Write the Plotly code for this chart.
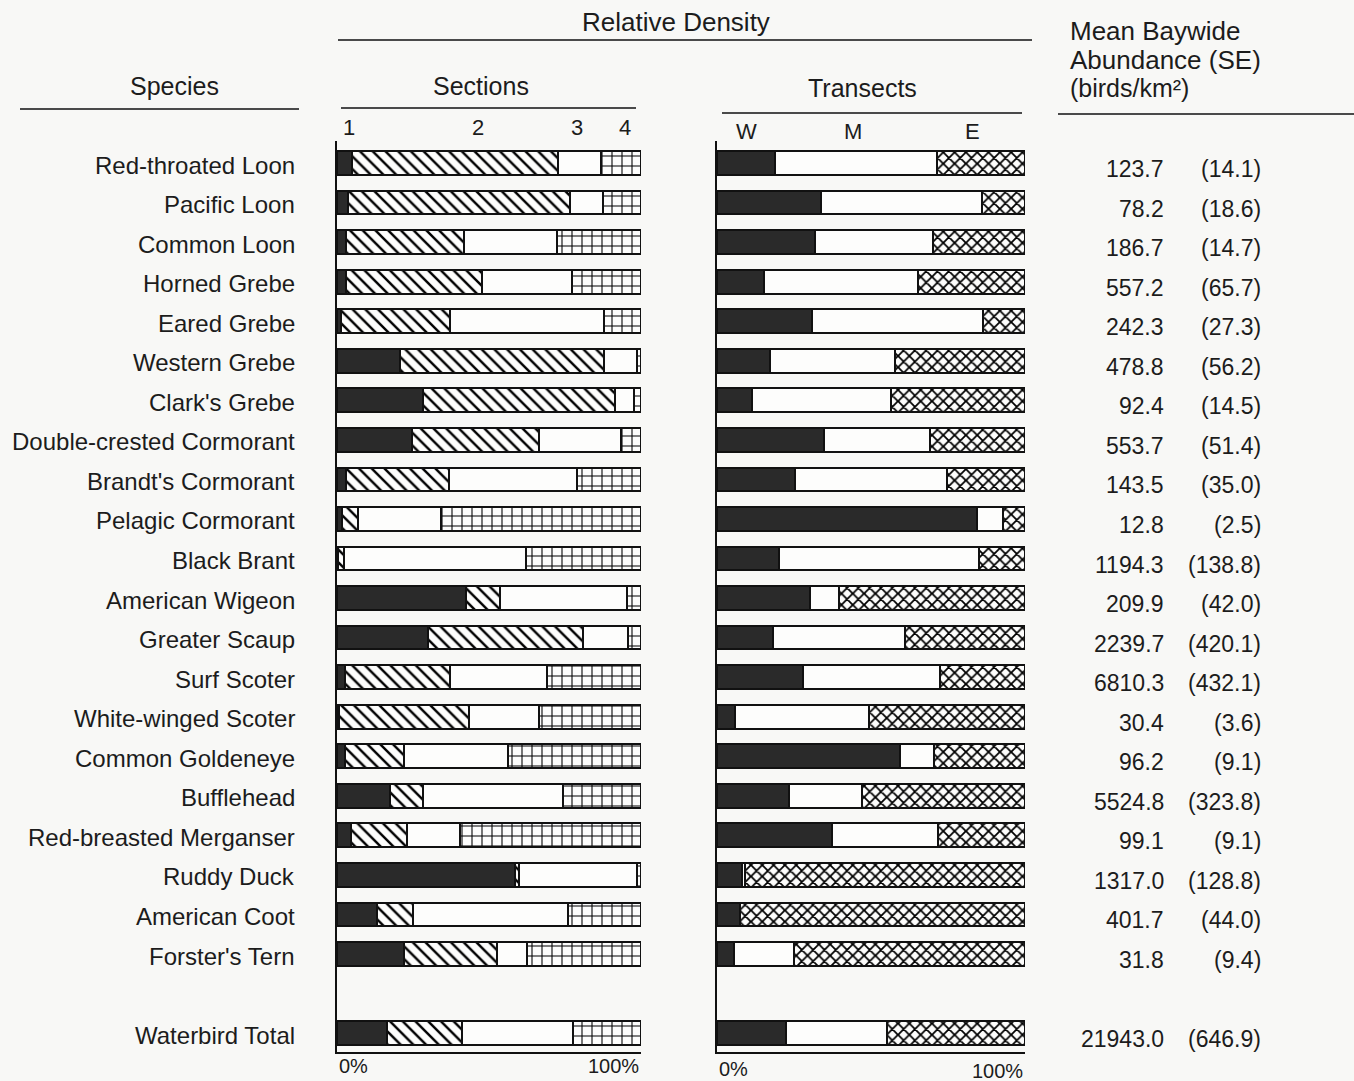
import plotly.graph_objects as go

W, H = 1354, 1081

species = ["Red-throated Loon", "Pacific Loon", "Common Loon", "Horned Grebe", "Eared Grebe",
           "Western Grebe", "Clark's Grebe", "Double-crested Cormorant", "Brandt's Cormorant",
           "Pelagic Cormorant", "Black Brant", "American Wigeon", "Greater Scaup", "Surf Scoter",
           "White-winged Scoter", "Common Goldeneye", "Bufflehead", "Red-breasted Merganser",
           "Ruddy Duck", "American Coot", "Forster's Tern", "Waterbird Total"]
row_pos = list(range(21)) + [22]

# Relative density by section (percent)
sec1 = [4.9, 3.5, 3.0, 2.8, 1.3, 20.7, 28.2, 24.6, 3.0, 1.5, 0.4, 42.4, 29.8, 2.7, 0.8, 2.7, 17.4, 4.5, 58.7, 13.2, 21.9, 16.5]
sec2 = [67.8, 73.0, 38.8, 44.8, 35.9, 67.1, 63.3, 41.9, 33.8, 5.3, 2.0, 11.2, 51.2, 34.4, 42.7, 19.4, 11.0, 18.4, 1.3, 11.7, 30.7, 24.6]
sec3 = [14.1, 10.9, 30.6, 29.6, 50.7, 10.8, 6.3, 27.0, 42.1, 27.3, 59.8, 41.8, 14.8, 32.0, 22.8, 34.0, 46.1, 17.7, 38.6, 51.0, 9.8, 36.4]
sec4 = [13.2, 12.6, 27.6, 22.8, 12.1, 1.4, 2.2, 6.5, 21.1, 65.9, 37.8, 4.6, 4.2, 30.9, 33.7, 43.9, 25.5, 59.4, 1.4, 24.1, 37.6, 22.5]

# Relative density by transect (percent)
trW = [18.9, 33.7, 31.9, 15.1, 30.8, 17.3, 11.5, 34.8, 25.4, 84.3, 20.2, 30.1, 18.2, 27.9, 6.0, 59.3, 23.3, 37.3, 8.1, 7.6, 5.4, 22.4]
trM = [52.6, 52.4, 38.2, 50.3, 55.7, 40.5, 45.0, 34.4, 49.2, 8.6, 64.9, 9.4, 42.8, 44.6, 43.2, 11.0, 23.9, 34.6, 1.1, 0.0, 19.5, 32.8]
trE = [28.5, 13.9, 29.9, 34.6, 13.5, 42.2, 43.5, 30.8, 25.4, 7.1, 14.9, 60.5, 39.0, 27.5, 50.8, 29.7, 52.8, 28.1, 90.8, 92.4, 75.1, 44.8]

abundance = ["123.7", "78.2", "186.7", "557.2", "242.3", "478.8", "92.4", "553.7", "143.5", "12.8", "1194.3",
             "209.9", "2239.7", "6810.3", "30.4", "96.2", "5524.8", "99.1", "1317.0", "401.7", "31.8", "21943.0"]
se = ["(14.1)", "(18.6)", "(14.7)", "(65.7)", "(27.3)", "(56.2)", "(14.5)", "(51.4)", "(35.0)", "(2.5)", "(138.8)",
      "(42.0)", "(420.1)", "(432.1)", "(3.6)", "(9.1)", "(323.8)", "(9.1)", "(128.8)", "(44.0)", "(9.4)", "(646.9)"]

section_labels = ["1", "2", "3", "4"]
section_label_pos = [3.9, 46.4, 78.9, 94.7]
transect_labels = ["W", "M", "E"]
transect_label_pos = [9.6, 44.1, 83.1]

FONT = "Liberation Sans, Arial, Helvetica, sans-serif"
INK = "#1c1c1c"
DARK = "#2a2a2a"
WHITE = "#fdfdfc"
BG = "#f8f8f6"
LINE = dict(color="#111111", width=2)


def px(x):
    return x / W


def py(y):
    return 1 - y / H


fig = go.Figure()

def add_bar(vals, xa, ya, fill, pattern=None):
    marker = dict(color=fill, line=LINE)
    if pattern:
        marker["pattern"] = pattern
    fig.add_trace(go.Bar(x=vals, y=row_pos, orientation="h", width=0.6, marker=marker,
                         xaxis=xa, yaxis=ya, showlegend=False, hoverinfo="skip"))

hatch = dict(shape="\\", fgcolor="#000000", bgcolor=WHITE, size=9, solidity=0.27, fgopacity=1)
grid = dict(shape="+", fgcolor="#000000", bgcolor=WHITE, size=10, solidity=0.2, fgopacity=1)
cross = dict(shape="x", fgcolor="#000000", bgcolor=WHITE, size=8, solidity=0.4, fgopacity=1)

add_bar(sec1, "x", "y", DARK)
add_bar(sec2, "x", "y", WHITE, hatch)
add_bar(sec3, "x", "y", WHITE)
add_bar(sec4, "x", "y", WHITE, grid)
add_bar(trW, "x2", "y2", DARK)
add_bar(trM, "x2", "y2", WHITE)
add_bar(trE, "x2", "y2", WHITE, cross)

ydom = [py(1052), py(141)]
yr = [(1052 - 163) / 39.55, (141 - 163) / 39.55]
axis_common = dict(showgrid=False, zeroline=False, showticklabels=False, ticks="",
                   showline=True, linecolor="#111111", linewidth=2)

fig.update_layout(
    width=W, height=H, margin=dict(l=0, r=0, t=0, b=0),
    paper_bgcolor=BG, plot_bgcolor="rgba(0,0,0,0)",
    barmode="stack", bargap=0,
    font=dict(family=FONT, color=INK, size=24),
    xaxis=dict(domain=[px(337), px(641)], range=[0, 100], anchor="y", **axis_common),
    yaxis=dict(domain=ydom, range=yr, anchor="x", **axis_common),
    xaxis2=dict(domain=[px(717), px(1025)], range=[0, 100], anchor="y2", **axis_common),
    yaxis2=dict(domain=ydom, range=yr, anchor="x2", matches="y", **axis_common),
)

ann = []
# species labels
for name, p in zip(species, row_pos):
    ann.append(dict(text=name, xref="paper", yref="y", x=px(297), y=p, xanchor="right",
                    yanchor="middle", showarrow=False, font=dict(size=24), yshift=-2))
# abundance columns
for a, s, p in zip(abundance, se, row_pos):
    ann.append(dict(text=a, xref="paper", yref="y", x=px(1166), y=p, xanchor="right",
                    yanchor="middle", showarrow=False, font=dict(size=23), yshift=-6))
    ann.append(dict(text=s, xref="paper", yref="y", x=px(1263), y=p, xanchor="right",
                    yanchor="middle", showarrow=False, font=dict(size=23), yshift=-6))
# section / transect labels
for t, xv in zip(section_labels, section_label_pos):
    ann.append(dict(text=t, xref="x", yref="paper", x=xv, y=py(128), xanchor="center",
                    yanchor="middle", showarrow=False, font=dict(size=22)))
for t, xv in zip(transect_labels, transect_label_pos):
    ann.append(dict(text=t, xref="x2", yref="paper", x=xv, y=py(131), xanchor="center",
                    yanchor="middle", showarrow=False, font=dict(size=22)))
# 0% / 100% labels
ann.append(dict(text="0%", xref="x", yref="paper", x=0, y=py(1066), xanchor="left", yanchor="middle",
                showarrow=False, font=dict(size=20)))
ann.append(dict(text="100%", xref="x", yref="paper", x=100, y=py(1066), xanchor="right", yanchor="middle",
                showarrow=False, font=dict(size=20)))
ann.append(dict(text="0%", xref="x2", yref="paper", x=0, y=py(1069), xanchor="left", yanchor="middle",
                showarrow=False, font=dict(size=20)))
ann.append(dict(text="100%", xref="x2", yref="paper", x=100, y=py(1071), xanchor="right", yanchor="middle",
                showarrow=False, font=dict(size=20)))
# headers
headers = [
    ("Relative Density", 676, 22, 26, "center"),
    ("Species", 174, 86, 25, "center"),
    ("Sections", 481, 86, 25, "center"),
    ("Transects", 862, 88, 25, "center"),
    ("Mean Baywide", 1068, 31, 26, "left"),
    ("Abundance (SE)", 1068, 60, 26, "left"),
    ("(birds/km²)", 1068, 88, 25, "left"),
]
for t, x, y, s, anc in headers:
    ann.append(dict(text=t, xref="paper", yref="paper", x=px(x), y=py(y), xanchor=anc,
                    yanchor="middle", showarrow=False, font=dict(size=s)))

fig.update_layout(annotations=ann)

# header rules
rules = [(338, 1032, 40), (20, 299, 109), (341, 636, 108), (722, 1022, 113), (1058, 1354, 114)]
for x0, x1, y in rules:
    fig.add_shape(type="line", xref="paper", yref="paper", x0=px(x0), x1=px(x1), y0=py(y), y1=py(y),
                  line=dict(color="#111111", width=1.6))

fig.write_html("out.html", config={"displayModeBar": False})

# remove the default page margin so the figure fills the window exactly
with open("out.html", "r", encoding="utf-8") as f:
    html = f.read()
html = html.replace("<head>", "<head><style>html,body{margin:0;padding:0;overflow:hidden;background:#f8f8f6}</style>", 1)
with open("out.html", "w", encoding="utf-8") as f:
    f.write(html)
